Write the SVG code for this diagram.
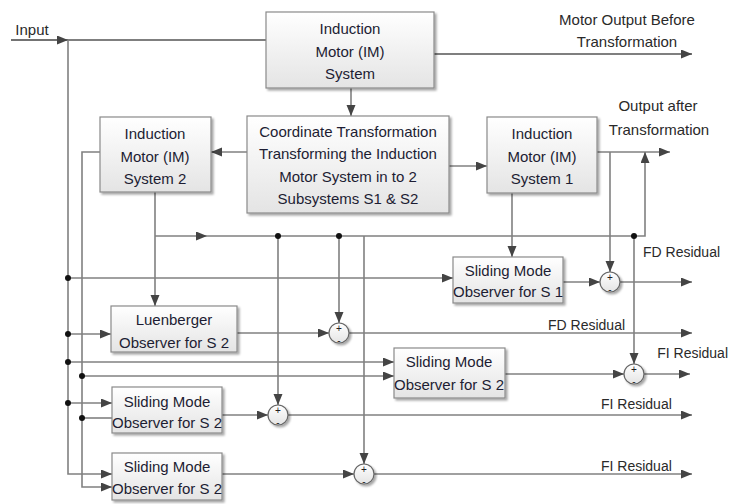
<svg xmlns="http://www.w3.org/2000/svg" width="730" height="504" viewBox="0 0 730 504">
<style>
.box{fill:url(#bg);stroke:#8a8a8a;stroke-width:1.2;filter:url(#sh)}
.bt{font-family:"Liberation Sans",Arial,sans-serif;font-size:15px;fill:#1d1d33;text-anchor:middle}
.lb{font-family:"Liberation Sans",Arial,sans-serif;font-size:14px;fill:#2a2a2a}
.lt{font-family:"Liberation Sans",Arial,sans-serif;font-size:15px;fill:#2a2a2a;text-anchor:middle}
.ln{fill:none;stroke:#808080;stroke-width:1.6}
.ar{fill:none;stroke:#808080;stroke-width:1.6;marker-end:url(#ah)}
.dot{fill:#111}
.sum{fill:url(#bg);stroke:#666;stroke-width:1.2;filter:url(#sh)}
.sg{font-family:"Liberation Sans",Arial,sans-serif;font-size:10px;fill:#222;text-anchor:middle}
</style>
<defs>
<linearGradient id="bg" x1="0" y1="0" x2="0" y2="1"><stop offset="0" stop-color="#ffffff"/><stop offset="1" stop-color="#e4e4e4"/></linearGradient>
<filter id="sh" x="-20%" y="-20%" width="140%" height="150%"><feDropShadow dx="2" dy="2" stdDeviation="1.2" flood-color="#000" flood-opacity="0.35"/></filter>
<marker id="ah" markerUnits="userSpaceOnUse" markerWidth="12" markerHeight="10" refX="11" refY="4.5" orient="auto"><path d="M0,0 L11,4.5 L0,9 z" fill="#444"/></marker>
</defs>
<rect width="730" height="504" fill="#fff"/>
<g id="connectors">
<path class="ar" d="M11,40 H68" style="stroke:#444"/>
<path class="ln" d="M68,40 H266" style="stroke:#555"/>
<path class="ar" d="M68,40 V474 H112"/>
<path class="ar" d="M434,54 H692" style="stroke:#555"/>
<path class="ar" d="M351,88 V116"/>
<path class="ar" d="M247,152 H211"/>
<path class="ar" d="M449,166 H487"/>
<path class="ar" d="M597,152 H670"/>
<path class="ar" d="M100,152 H82 V487 H112"/>
<path class="ar" d="M155,192 V306"/>
<path class="ar" d="M155,236 H207"/>
<path class="ar" d="M207,236 H645 V152"/>
<path class="ar" d="M278,236 V405"/>
<path class="ar" d="M339,236 V323"/>
<path class="ar" d="M364,236 V464"/>
<path class="ar" d="M634,236 V364"/>
<path class="ar" d="M610,152 V272"/>
<path class="ar" d="M512,193 V257"/>
<path class="ar" d="M68,278 H453"/>
<path class="ar" d="M563,282 H600"/>
<path class="ar" d="M620,282 H692"/>
<path class="ar" d="M68,334 H111"/>
<path class="ar" d="M237,333 H329"/>
<path class="ar" d="M349,333 H692"/>
<path class="ar" d="M68,362 H394"/>
<path class="ar" d="M82,376 H394"/>
<path class="ar" d="M505,374 H624"/>
<path class="ar" d="M644,374 H690"/>
<path class="ln" d="M82,418 H112"/>
<path class="ar" d="M68,403 H112"/>
<path class="ar" d="M222,415 H268"/>
<path class="ar" d="M288,415 H692"/>
<path class="ar" d="M222,474 H354"/>
<path class="ar" d="M374,474 H692"/>
<circle class="dot" cx="278" cy="236" r="3"/>
<circle class="dot" cx="339" cy="236" r="3"/>
<circle class="dot" cx="634" cy="236" r="3"/>
<circle class="dot" cx="68" cy="278" r="3"/>
<circle class="dot" cx="68" cy="334" r="3"/>
<circle class="dot" cx="68" cy="362" r="3"/>
<circle class="dot" cx="68" cy="403" r="3"/>
<circle class="dot" cx="82" cy="376" r="3"/>
<circle class="dot" cx="82" cy="418" r="3"/>
</g>
<g id="labels">
<text class="lt" x="32" y="35">Input</text>
<text class="lt" x="627" y="25">Motor Output Before</text>
<text class="lt" x="627" y="47">Transformation</text>
<text class="lt" x="658" y="111">Output after</text>
<text class="lt" x="659" y="135">Transformation</text>
<text class="lb" x="643" y="257">FD Residual</text>
<text class="lb" x="548" y="330">FD Residual</text>
<text class="lb" x="728" y="358" text-anchor="end">FI Residual</text>
<text class="lb" x="601" y="409">FI Residual</text>
<text class="lb" x="601" y="471">FI Residual</text>
</g>
<g id="im">
<rect class="box" x="266" y="12" width="168" height="76"/>
<text class="bt" x="350" y="34">Induction</text>
<text class="bt" x="350" y="57">Motor (IM)</text>
<text class="bt" x="350" y="79">System</text>
</g>
<g id="ct">
<rect class="box" x="247" y="116" width="202" height="97"/>
<text class="bt" x="348" y="137">Coordinate Transformation</text>
<text class="bt" x="348" y="159">Transforming the Induction</text>
<text class="bt" x="348" y="182">Motor System in to 2</text>
<text class="bt" x="348" y="204">Subsystems S1 &amp; S2</text>
</g>
<g id="im2">
<rect class="box" x="100" y="117" width="111" height="75"/>
<text class="bt" x="155" y="139">Induction</text>
<text class="bt" x="155" y="162">Motor (IM)</text>
<text class="bt" x="155" y="184">System 2</text>
</g>
<g id="im1">
<rect class="box" x="487" y="117" width="110" height="76"/>
<text class="bt" x="542" y="139">Induction</text>
<text class="bt" x="542" y="162">Motor (IM)</text>
<text class="bt" x="542" y="184">System 1</text>
</g>
<g id="smo1">
<rect class="box" x="453" y="257" width="110" height="46"/>
<text class="bt" x="508" y="276">Sliding Mode</text>
<text class="bt" x="508" y="297">Observer for S 1</text>
</g>
<g id="luen">
<rect class="box" x="111" y="306" width="126" height="46"/>
<text class="bt" x="174" y="325">Luenberger</text>
<text class="bt" x="174" y="348">Observer for S 2</text>
</g>
<g id="smo2a">
<rect class="box" x="394" y="348" width="111" height="50"/>
<text class="bt" x="449" y="367">Sliding Mode</text>
<text class="bt" x="449" y="390">Observer for S 2</text>
</g>
<g id="smo2b">
<rect class="box" x="112" y="387" width="110" height="46"/>
<text class="bt" x="167" y="407">Sliding Mode</text>
<text class="bt" x="167" y="428">Observer for S 2</text>
</g>
<g id="smo2c">
<rect class="box" x="112" y="453" width="110" height="47"/>
<text class="bt" x="167" y="472">Sliding Mode</text>
<text class="bt" x="167" y="494">Observer for S 2</text>
</g>
<g id="sum1">
<circle class="sum" cx="610" cy="282" r="10"/>
<text class="sg" x="610" y="281">+</text><text class="sg" x="610" y="293">-</text>
</g>
<g id="sum2">
<circle class="sum" cx="339" cy="333" r="10"/>
<text class="sg" x="339" y="332">+</text><text class="sg" x="339" y="344">-</text>
</g>
<g id="sum3">
<circle class="sum" cx="634" cy="374" r="10"/>
<text class="sg" x="634" y="373">+</text><text class="sg" x="634" y="385">-</text>
</g>
<g id="sum4">
<circle class="sum" cx="278" cy="415" r="10"/>
<text class="sg" x="278" y="414">+</text><text class="sg" x="278" y="426">-</text>
</g>
<g id="sum5">
<circle class="sum" cx="364" cy="474" r="10"/>
<text class="sg" x="364" y="473">+</text><text class="sg" x="364" y="485">-</text>
</g>
</svg>
